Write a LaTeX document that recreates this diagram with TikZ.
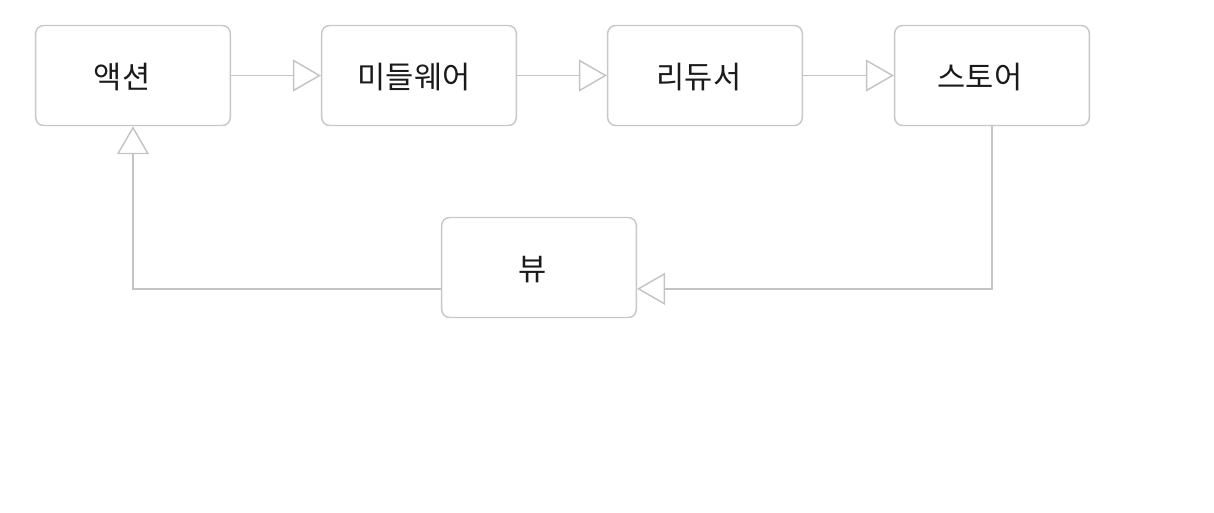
\documentclass[tikz,border=0pt]{standalone}
\usepackage{fontspec}
\newfontfamily\kr{Noto Sans CJK KR}
\usetikzlibrary{arrows.meta}
\definecolor{linegray}{HTML}{C4C4C4}
\definecolor{boxgray}{HTML}{C8C8C8}
\definecolor{txt}{HTML}{1A1A1A}
\begin{document}
\begin{tikzpicture}[x=0.75pt,y=-0.75pt,
  box/.style={draw=boxgray, line width=1.1pt, rounded corners=6pt, fill=white,
    minimum width=146pt, minimum height=75pt, inner sep=0pt},
  lbl/.style={inner sep=0pt, font=\kr\fontsize{23}{26}\selectfont, text=txt},
  arr/.style={draw=linegray, line width=1.1pt,
    -{Triangle[open, length=21pt, width=24pt, line width=1.1pt]}}]
\useasboundingbox (0,0) rectangle (1214,512);
\node[box] (a) at (133,75.5) {};
\node[box] (m) at (419,75.5) {};
\node[box] (r) at (705,75.5) {};
\node[box] (s) at (992,75.5) {};
\node[box] (v) at (539,267.5) {};
\node[lbl] (ta) at (122,77.5) {액션};
\node[lbl] (tm) at (414,77.5) {미들웨어};
\node[lbl] (tr) at (699,77.5) {리듀서};
\node[lbl] (ts) at (980,77.5) {스토어};
\node[lbl] (tv) at (533,269.5) {뷰};
\draw[arr] (a) -- (m);
\draw[arr] (m) -- (r);
\draw[arr] (r) -- (s);
\draw[arr] (s.south) |- ([yshift=-16pt]v.east);
\draw[arr] ([yshift=-16pt]v.west) -| (a.south);
\end{tikzpicture}
\end{document}
